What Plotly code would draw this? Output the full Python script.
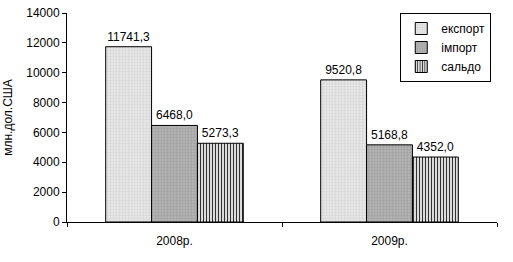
import plotly.graph_objects as go

categories = ["2008р.", "2009р."]
export_vals = [11741.3, 9520.8]
import_vals = [6468.0, 5168.8]
saldo_vals = [5273.3, 4352.0]
series_names = ["експорт", "імпорт", "сальдо"]
y_ticks = [0, 2000, 4000, 6000, 8000, 10000, 12000, 14000]

def fmt(v):
    return f"{v:.1f}".replace(".", ",")

FONT = "Liberation Sans, Arial"
fig = go.Figure()
styles = [
    dict(shape=".", fg="#d4d4d4", bg="#e6e6e6", size=3, sol=0.3),
    dict(shape=".", fg="#9e9e9e", bg="#b2b2b2", size=3, sol=0.3),
    dict(shape="|", fg="#303030", bg="#ffffff", size=3, sol=0.45),
]
for name, vals, st in zip(series_names, [export_vals, import_vals, saldo_vals], styles):
    fig.add_trace(go.Bar(
        x=categories, y=vals, name=name,
        text=[fmt(v) for v in vals], textposition="outside",
        textfont=dict(family=FONT, size=12, color="#000"),
        cliponaxis=False,
        marker=dict(color=st["bg"], line=dict(color="#000", width=1),
                    pattern=dict(shape=st["shape"], fgcolor=st["fg"], bgcolor=st["bg"],
                                 size=st["size"], solidity=st["sol"], fillmode="replace")),
    ))

fig.update_layout(
    width=513, height=262,
    margin=dict(l=67, r=16, t=13, b=40),
    paper_bgcolor="white", plot_bgcolor="white",
    barmode="group", bargap=0.36, bargroupgap=0,
    font=dict(family=FONT, size=12, color="#000"),
    showlegend=True,
    legend=dict(x=0.775, y=1, xanchor="left", yanchor="top",
                bordercolor="#000", borderwidth=1, bgcolor="white",
                font=dict(size=12), tracegroupgap=0, itemwidth=30),
    xaxis=dict(showline=True, linecolor="#000", linewidth=1, ticks="outside",
               tickson="boundaries", ticklen=4, tickcolor="#000", showgrid=False,
               automargin=False, ticklabelstandoff=8),
    yaxis=dict(range=[0, 14000], tickvals=y_ticks, tickformat="d", showline=True,
               linecolor="#000", linewidth=1, ticks="outside", ticklen=4,
               tickcolor="#000", showgrid=False, zeroline=False, automargin=False,
               title=dict(text="млн.дол.США", font=dict(size=12), standoff=11)),
)
fig.write_html("out.html")
